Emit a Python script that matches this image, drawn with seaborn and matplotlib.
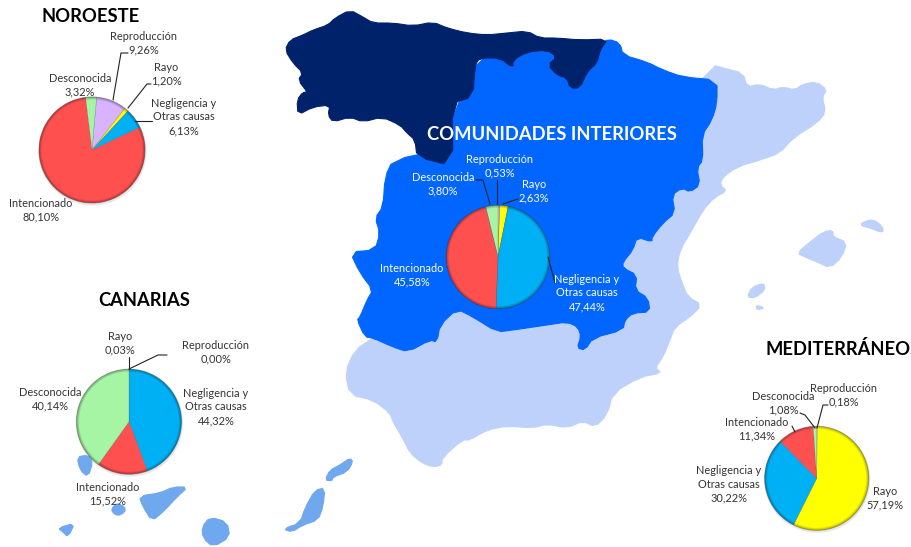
import matplotlib.pyplot as plt
from matplotlib.patches import Circle, Polygon
import seaborn as sns

# Datos de cada grafico (%), sentido horario desde arriba
causas = ['Reproducción', 'Rayo', 'Negligencia y\nOtras causas', 'Intencionado', 'Desconocida']
noroeste = [9.26, 1.20, 6.13, 80.10, 3.32]
interiores = [0.53, 2.63, 47.44, 45.58, 3.80]
canarias = [0.00, 0.03, 44.32, 15.52, 40.14]
mediterraneo = [0.18, 57.19, 30.22, 11.34, 1.08]
colores = sns.color_palette(['#d9b3ff', '#ffff00', '#00b0f5', '#ff5050', '#a5f5a5'])

# Contornos del mapa en pixeles de la imagen
zona_noroeste = [(285,50),(290,40),(303,35),(313,30),(328,25),(335,18),(350,10),(363,17),(373,23),(393,23),(413,26),(433,22),(447,28),(467,33),(487,35),(507,33),(527,31),(540,38),(557,38),(580,40),(608,39),(600,50),(597,63),(587,72),(580,88),(570,88),(567,78),(557,75),(548,65),(557,57),(547,50),(527,52),(513,60),(513,68),(500,58),(480,58),(475,65),(473,97),(452,103),(453,166),(417,157),(415,140),(407,133),(400,125),(382,117),(363,122),(350,117),(333,122),(328,115),(330,105),(313,107),(298,115),(297,100),(303,92),(308,93),(298,80),(303,73),(293,63)]
zona_interior = [(393,160),(440,150),(460,100),(475,60),(520,45),(600,45),(608,39),(620,43),(623,55),(647,62),(663,70),(683,77),(717,80),(717,103),(712,120),(702,135),(703,160),(697,168),(700,185),(690,192),(682,188),(672,195),(675,213),(663,223),(652,237),(652,242),(637,237),(633,250),(623,262),(623,268),(637,275),(635,290),(648,298),(650,312),(633,313),(625,320),(623,330),(593,338),(585,350),(577,348),(581,337),(578,327),(567,322),(547,325),(513,330),(497,332),(473,317),(457,309),(440,325),(437,342),(430,340),(408,352),(393,347),(373,338),(365,337),(357,320),(360,317),(367,300),(373,290),(360,273),(350,252),(375,250),(380,233),(375,218),(383,207),(385,177)]
zona_mediterraneo = [(713,65),(723,68),(743,73),(747,87),(760,84),(773,90),(783,87),(795,90),(803,84),(817,82),(827,90),(822,97),(826,112),(817,123),(793,138),(780,153),(760,160),(737,167),(723,177),(720,185),(727,191),(715,197),(703,210),(692,230),(680,250),(677,267),(682,283),(688,297),(702,305),(690,317),(675,327),(670,340),(663,357),(655,368),(662,373),(640,377),(613,393),(607,415),(595,427),(583,421),(567,428),(547,424),(533,428),(507,426),(487,430),(470,440),(462,440),(442,458),(442,465),(433,467),(422,463),(410,453),(402,437),(393,422),(390,413),(373,400),(350,395),(345,372),(355,350),(373,338),(500,250),(640,150)]
baleares = [
    [(797,253),(810,242),(823,232),(833,230),(833,237),(847,242),(842,257),(830,268),(817,262),(805,257)],
    [(861,223),(873,219),(883,227),(883,233),(870,228),(862,226)],
    [(747,297),(752,287),(764,283),(765,290),(755,298)],
    [(756,305),(765,308),(757,310)],
]
islas_canarias = [
    [(77,457),(88,455),(93,462),(88,477),(80,470)],
    [(58,528),(75,523),(68,537),(63,532)],
    [(112,508),(117,503),(125,507),(125,512),(118,516),(112,512)],
    [(139,496),(160,493),(173,487),(188,487),(177,497),(163,512),(152,521),(143,507)],
    [(202,527),(210,517),(227,522),(230,537),(213,547),(203,538)],
    [(283,529),(300,523),(305,508),(315,490),(325,488),(323,507),(318,520),(303,525),(292,532)],
    [(325,480),(330,470),(340,465),(350,458),(353,462),(347,472),(333,477),(332,481)],
]

sns.set_theme(style='white')
plt.rcParams['font.family'] = ['Lato', 'DejaVu Sans']

fig = plt.figure(figsize=(9.12, 5.47), dpi=100)
ax = fig.add_axes([0, 0, 1, 1])


def volteado(puntos):
    return [(x, 547 - y) for x, y in puntos]


def suavizar(puntos):
    # recorta las esquinas para que el contorno no se vea tan anguloso
    nuevos = []
    for (x0, y0), (x1, y1) in zip(puntos, puntos[1:] + puntos[:1]):
        nuevos.append((0.75 * x0 + 0.25 * x1, 0.75 * y0 + 0.25 * y1))
        nuevos.append((0.25 * x0 + 0.75 * x1, 0.25 * y0 + 0.75 * y1))
    return nuevos


def zona(puntos, color):
    ax.add_patch(Polygon(volteado(suavizar(puntos)), closed=True, facecolor=color, edgecolor=color, lw=0.8))


def tarta(valores, x, y, r, inicio=90):
    ax.pie(valores, colors=colores, center=(x, 547 - y), radius=r, startangle=inicio,
           counterclock=False, frame=True, wedgeprops={'linewidth': 0.3, 'edgecolor': '#55555580'})
    # borde oscuro para imitar el efecto 3D
    for i in range(4):
        ax.add_patch(Circle((x, 547 - y), r - i * 0.7, fill=False, lw=0.9, edgecolor='black', alpha=0.20 - i * 0.05))
    ax.add_patch(Circle((x + 0.5, 547 - y - 1.5), r + 1, facecolor='#00000018', edgecolor='none', zorder=0.9))


def etiqueta(texto, x, y, color='#333333'):
    ax.text(x, 547 - y, texto, ha='center', va='center', fontsize=7.9, color=color, linespacing=1.3)


def guia(puntos, color='#222222'):
    xs, ys = zip(*volteado(puntos))
    ax.plot(xs, ys, color=color, lw=0.8)


def titulo(texto, x, y, color='black'):
    ax.text(x, 547 - y, texto, ha='center', va='center', fontsize=13.2, fontweight='bold', color=color)


zona(zona_mediterraneo, '#bdd1fb')
for isla in baleares:
    zona(isla, '#bdd1fb')
zona(zona_interior, '#0066ff')
zona(zona_noroeste, '#00226b')
for isla in islas_canarias:
    zona(isla, '#6fa8ee')

tarta(noroeste, 92, 150, 53, inicio=85)
tarta(interiores, 498, 257, 51.7)
tarta(canarias, 129, 421.7, 52.5)
tarta(mediterraneo, 816.7, 478.3, 52)

titulo('NOROESTE', 91, 16)
titulo('COMUNIDADES INTERIORES', 552, 135, 'white')
titulo('CANARIAS', 144, 300)
titulo('MEDITERRÁNEO', 838, 349)


def pct(v):
    return f'{v:.2f}%'.replace('.', ',')


pos_no = [(144, 43), (166, 74), (184, 117), (41, 210), (80, 85)]
pos_in = [(500, 166), (534, 191), (587, 293), (412, 275), (443, 184)]
pos_ca = [(216, 352), (120, 343), (216, 407), (108, 494), (50, 399)]
pos_me = [(844, 395), (885, 498), (729, 484), (757, 429), (783, 403)]

for valores, posiciones, color in [(noroeste, pos_no, '#333333'), (interiores, pos_in, 'white'),
                                   (canarias, pos_ca, '#333333'), (mediterraneo, pos_me, '#333333')]:
    for causa, v, (x, y) in zip(causas, valores, posiciones):
        etiqueta(f'{causa}\n{pct(v)}', x, y, color)

for g in [[(113,100),(121,53),(128,53)], [(128,108),(147,84),(151,84)], [(135,121),(152,121)],
          [(490,204),(483,180),(476,180)], [(497,204),(497,180)], [(503,204),(518,199)], [(548,257),(555,283)],
          [(129,369),(129,357)], [(129,369),(158,355),(167,355)],
          [(815,428),(805,415),(800,413)], [(817,428),(823,405),(828,405)], [(795,432),(792,426)]]:
    guia(g)

ax.set_xlim(0, 912)
ax.set_ylim(0, 547)
ax.set_aspect('auto')
ax.axis('off')
sns.despine(fig=fig, left=True, bottom=True)
fig.savefig('out.png', dpi=100)
